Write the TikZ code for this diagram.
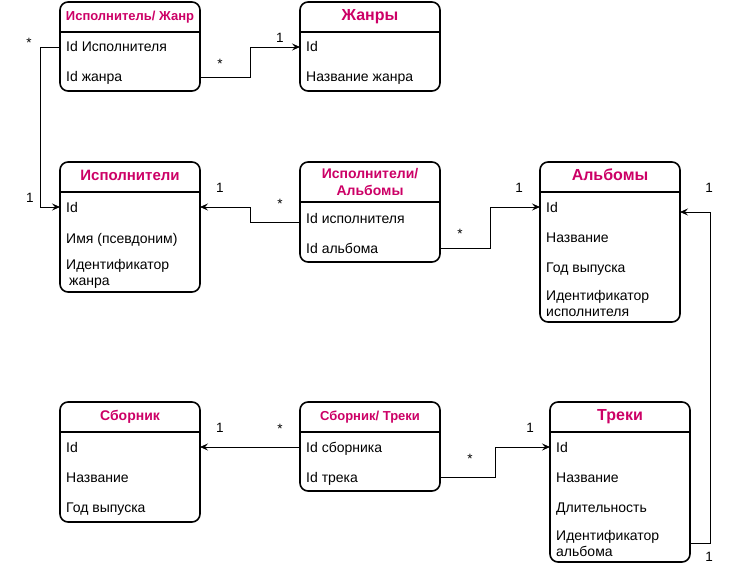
\documentclass[tikz,border=0pt]{standalone}
\usepackage{fontspec}
\setmainfont{Liberation Sans}
\usetikzlibrary{arrows.meta}
\definecolor{headpink}{HTML}{CC0066}

\tikzset{
	tbl/.style={draw, line width=1.6pt, rounded corners=8pt, minimum width=140pt, inner sep=0pt, outer sep=0pt, anchor=north west},
	head/.style={minimum width=140pt, inner sep=0pt, outer sep=0pt, anchor=north west, align=center, text=headpink},
	headone/.style={head, minimum height=30pt, text height=0.72em, text depth=0pt},
	row/.style={anchor=base west, inner sep=0pt, text height=10pt, text depth=0pt, font=\fontsize{14}{16}\selectfont},
	rowtwo/.style={anchor=base west, inner sep=0pt, align=left, font=\fontsize{14}{16}\selectfont},
	card/.style={inner sep=0pt, font=\fontsize{13.5}{15}\selectfont},
	link/.style={line width=0.8pt, -{Stealth[length=8pt,width=7pt,inset=3pt]}},
}

\begin{document}
\begin{tikzpicture}[x=1pt, y=-1pt]
\useasboundingbox (0,0) rectangle (741,572);

\node[tbl, minimum height=89pt] (ag) at (60,2) {};
\node[headone, font=\bfseries\fontsize{13}{15}\selectfont] (agh) at (60,2) {Исполнитель/ Жанр};
\node[row] (ag1) at (66,52) {Id Исполнителя};
\node[row] (ag2) at (66,82) {Id жанра};

\node[tbl, minimum height=89pt] (ge) at (300,2) {};
\node[headone, font=\bfseries\fontsize{16}{18}\selectfont] (geh) at (300,2) {Жанры};
\node[row] (ge1) at (306,52) {Id};
\node[row] (ge2) at (306,82) {Название жанра};

\node[tbl, minimum height=130pt] (ar) at (60,162) {};
\node[headone, font=\bfseries\fontsize{15}{17}\selectfont] (arh) at (60,162) {Исполнители};
\node[row] (ar1) at (66,212) {Id};
\node[row] (ar2) at (66,243) {Имя (псевдоним)};
\node[rowtwo] (ar3) at (66,285) {Идентификатор\\\hspace{3pt}жанра};

\node[tbl, minimum height=100pt] (aa) at (300,162) {};
\node[head, minimum height=40pt, font=\bfseries\fontsize{14}{17}\selectfont] (aah) at (300,162) {Исполнители/\\Альбомы};
\node[row] (aa1) at (306,223) {Id исполнителя};
\node[row] (aa2) at (306,253) {Id альбома};

\node[tbl, minimum height=160pt] (al) at (540,162) {};
\node[headone, font=\bfseries\fontsize{16}{18}\selectfont] (alh) at (540,162) {Альбомы};
\node[row] (al1) at (546,212) {Id};
\node[row] (al2) at (546,242) {Название};
\node[row] (al3) at (546,272) {Год выпуска};
\node[rowtwo] (al4) at (546,316) {Идентификатор\\исполнителя};

\node[tbl, minimum height=120pt] (sb) at (60,402) {};
\node[headone, font=\bfseries\fontsize{14}{16}\selectfont] (sbh) at (60,402) {Сборник};
\node[row] (sb1) at (66,452) {Id};
\node[row] (sb2) at (66,482) {Название};
\node[row] (sb3) at (66,512) {Год выпуска};

\node[tbl, minimum height=89pt] (st) at (300,402) {};
\node[headone, font=\bfseries\fontsize{13}{15}\selectfont] (sth) at (300,402) {Сборник/ Треки};
\node[row] (st1) at (306,452) {Id сборника};
\node[row] (st2) at (306,482) {Id трека};

\node[tbl, minimum height=160pt] (tr) at (550,402) {};
\node[headone, font=\bfseries\fontsize{16}{18}\selectfont] (trh) at (550,402) {Треки};
\node[row] (tr1) at (556,452) {Id};
\node[row] (tr2) at (556,482) {Название};
\node[row] (tr3) at (556,512) {Длительность};
\node[rowtwo] (tr4) at (556,556) {Идентификатор\\альбома};

\foreach \t in {agh,geh,arh,aah,alh,sbh,sth,trh}
	\draw[line width=1.2pt] (\t.south west) -- (\t.south east);

\draw[link] (ag.west |- ag1) -- ++(-20,0) |- (ar.west |- ar1);
\draw[link] (ag.east |- ag2) -- ++(50,0) |- (ge.west |- ge1);
\draw[link] ([yshift=-4pt]aa.west |- aa1) -- ++(-50,0) |- (ar.east |- ar1);
\draw[link] (aa.east |- aa2) -- ++(50,0) |- (al.west |- al1);
\draw[link] (tr.east |- tr4) -- ++(20,0) |- ([yshift=-5pt]al.east |- al1);
\draw[link] (st.west |- st1) -- (sb.east |- sb1);
\draw[link] (st.east |- st2) -- ++(55,0) |- (tr.west |- tr1);

\node[card] (c1) at (29,43) {*};
\node[card] (c2) at (30,198) {1};
\node[card] (c3) at (220,64) {*};
\node[card] (c4) at (280,38) {1};
\node[card] (c5) at (220,188) {1};
\node[card] (c6) at (280,204) {*};
\node[card] (c7) at (460,234) {*};
\node[card] (c8) at (519,188) {1};
\node[card] (c9) at (709,188) {1};
\node[card] (c10) at (709,557) {1};
\node[card] (c11) at (220,428) {1};
\node[card] (c12) at (280,429) {*};
\node[card] (c13) at (470,459) {*};
\node[card] (c14) at (530,428) {1};

\end{tikzpicture}
\end{document}
